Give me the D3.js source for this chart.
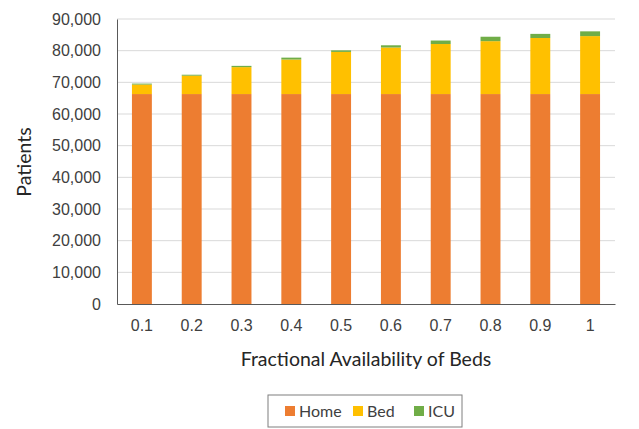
<!DOCTYPE html>
<html>
<head>
<meta charset="utf-8">
<script src="https://cdn.jsdelivr.net/npm/d3@7"></script>
<style>
  body { margin: 0; background: #fff; }
  svg { font-family: Lato, "Open Sans", sans-serif; }
</style>
</head>
<body>
<svg></svg>
<script>
const categories = ['0.1', '0.2', '0.3', '0.4', '0.5', '0.6', '0.7', '0.8', '0.9', '1'];
const home = [66300, 66300, 66300, 66300, 66300, 66300, 66300, 66300, 66300, 66300];
const bed = [3000, 5800, 8500, 10900, 13300, 14700, 15800, 16700, 17700, 18300];
const icu = [300, 300, 400, 600, 500, 700, 1100, 1400, 1300, 1500];
const seriesNames = ['Home', 'Bed', 'ICU'];
const colors = ['#ED7D31', '#FFC000', '#70AD47'];
const yTicks = [0, 10000, 20000, 30000, 40000, 50000, 60000, 70000, 80000, 90000];

const dimensions = { width: 639, height: 429 };
const margin = { top: 19, right: 24, bottom: 125, left: 117 };
const innerW = dimensions.width - margin.left - margin.right;
const innerH = dimensions.height - margin.top - margin.bottom;

const svg = d3.select('svg').attr('width', dimensions.width).attr('height', dimensions.height);
const g = svg.append('g').attr('transform', `translate(${margin.left},${margin.top})`);

const rows = categories.map((c, i) => ({ cat: c, Home: home[i], Bed: bed[i], ICU: icu[i] }));
const stacked = d3.stack().keys(seriesNames)(rows);

const x = d3.scaleBand().domain(categories).range([0, innerW]).paddingInner(0.6).paddingOuter(0.3);
const y = d3.scaleLinear().domain([0, 90000]).range([innerH, 0]);

// gridlines
g.selectAll('.grid').data(yTicks.slice(1)).join('line')
  .attr('x1', 0).attr('x2', innerW)
  .attr('y1', d => y(d)).attr('y2', d => y(d))
  .attr('stroke', '#D9D9D9').attr('stroke-width', 1);

// bars
g.selectAll('.series').data(stacked).join('g')
  .attr('fill', (d, i) => colors[i])
  .selectAll('rect').data(d => d).join('rect')
  .attr('x', d => x(d.data.cat))
  .attr('width', x.bandwidth())
  .attr('y', d => y(d[1]))
  .attr('height', d => y(d[0]) - y(d[1]));

// y axis
const yAxis = g.append('g').call(d3.axisLeft(y).tickValues(yTicks).tickFormat(d3.format(',')).tickSize(0).tickPadding(16));
yAxis.select('.domain').attr('stroke', '#595959');
yAxis.selectAll('text').attr('font-size', 16).attr('fill', '#404040');

// x axis
const xAxis = g.append('g').attr('transform', `translate(0,${innerH})`)
  .call(d3.axisBottom(x).tickSize(0).tickPadding(16));
xAxis.select('.domain').attr('stroke', '#595959');
xAxis.selectAll('text').attr('font-size', 16).attr('fill', '#404040');

// axis titles
svg.append('text').attr('transform', 'translate(31,162) rotate(-90)')
  .attr('text-anchor', 'middle').attr('font-size', 19.5).attr('fill', '#262626').text('Patients');
svg.append('text').attr('x', margin.left + innerW / 2).attr('y', 366)
  .attr('text-anchor', 'middle').attr('font-size', 19.5).attr('fill', '#262626').text('Fractional Availability of Beds');

// legend
const legend = svg.append('g').attr('transform', 'translate(268,395)');
legend.append('rect').attr('width', 194).attr('height', 32)
  .attr('fill', '#fff').attr('stroke', '#7f7f7f').attr('stroke-width', 1);
const legendX = [17, 85, 146];
const items = legend.selectAll('.item').data(seriesNames).join('g')
  .attr('transform', (d, i) => `translate(${legendX[i]},16)`);
items.append('rect').attr('x', 0).attr('y', -5).attr('width', 10).attr('height', 10)
  .attr('fill', (d, i) => colors[i]);
items.append('text').attr('x', 14).attr('y', 6).attr('font-size', 16).attr('fill', '#404040').text(d => d);
</script>
</body>
</html>
